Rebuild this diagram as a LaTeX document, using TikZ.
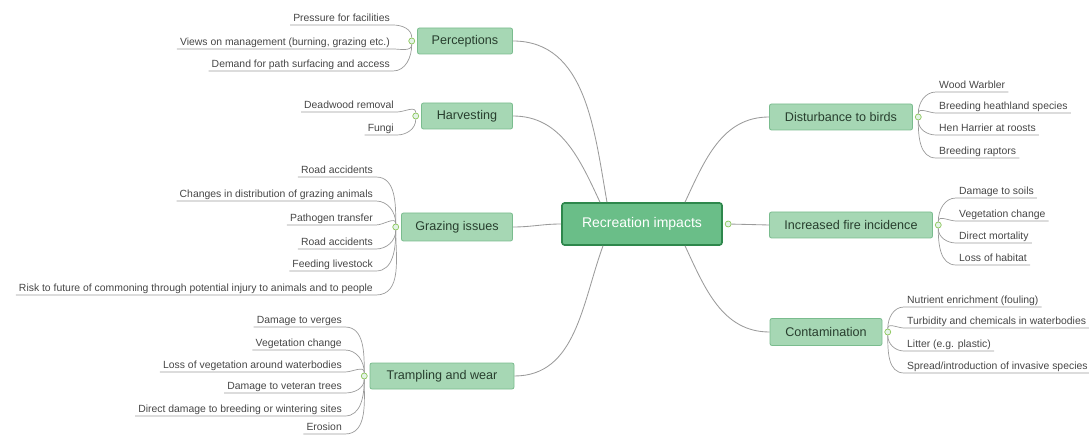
\documentclass[tikz,border=0pt]{standalone}
\usepackage{fontspec}
\setmainfont{Liberation Sans}
\usetikzlibrary{positioning}

\definecolor{mintfill}{RGB}{166,215,180}
\definecolor{mintline}{RGB}{122,188,142}
\definecolor{hubfill}{RGB}{106,190,136}
\definecolor{hubline}{RGB}{46,135,76}
\definecolor{twiggray}{RGB}{155,155,155}
\definecolor{leaftext}{RGB}{70,70,70}
\definecolor{branchtext}{RGB}{40,62,46}
\definecolor{knobline}{RGB}{140,198,90}

\tikzset{
  hub/.style={draw=hubline, fill=hubfill, line width=1.6pt, rounded corners=2.5pt,
    minimum width=160pt, minimum height=42pt, text=white,
    font=\fontsize{14}{16}\selectfont},
  branch/.style={draw=mintline, fill=mintfill, line width=0.8pt, rounded corners=2pt,
    minimum height=26pt, inner xsep=0pt, text=branchtext,
    font=\fontsize{12.6}{14}\selectfont},
  knob/.style={circle, draw=knobline, fill=white!70!mintfill, line width=0.7pt,
    minimum size=6pt, inner sep=0pt},
  leafL/.style={anchor=south east, inner xsep=3pt, inner ysep=1.5pt, text height=7.5pt,
    text depth=2pt, text=leaftext, font=\fontsize{10.4}{12}\selectfont},
  leafR/.style={leafL, anchor=south west},
  link/.style={draw=twiggray, line width=0.85pt},
  twig/.style={draw=twiggray, line width=0.7pt}
}

\begin{document}
\begin{tikzpicture}[x=1pt,y=1pt]

\useasboundingbox (0,0) rectangle (1089,-435);

% centre and main branches
\node[hub] (recr) at (642,-224) {Recreation impacts};
\node[knob, right=2pt of recr] (recrK) {};

\node[branch, minimum width=95pt] (perc) at (465,-41) {Perceptions};
\node[branch, minimum width=91pt] (harv) at (467,-116) {Harvesting};
\node[branch, minimum width=111pt, minimum height=28pt] (graz) at (457,-227) {Grazing issues};
\node[branch, minimum width=144pt] (tramp) at (442,-376) {Trampling and wear};
\node[branch, minimum width=143pt] (birds) at (841,-117) {Disturbance to birds};
\node[branch, minimum width=163pt] (fire) at (851,-225) {Increased fire incidence};
\node[branch, minimum width=112pt, minimum height=27pt] (cont) at (826,-332) {Contamination};

\node[knob, left=2pt of perc] (percK) {};
\node[knob, left=2pt of harv] (harvK) {};
\node[knob, left=2pt of graz] (grazK) {};
\node[knob, left=2pt of tramp] (trampK) {};
\node[knob, right=2pt of birds] (birdsK) {};
\node[knob, right=2pt of fire] (fireK) {};
\node[knob, right=2pt of cont] (contK) {};

\draw[link] (perc.east) to[out=0,in=100] ([xshift=-35pt]recr.north);
\draw[link] (harv.east) to[out=0,in=115] ([xshift=-42pt]recr.north);
\draw[link] (graz.east) to[out=0,in=180] (recr.west);
\draw[link] (tramp.east) to[out=0,in=-110] ([xshift=-39pt]recr.south);
\draw[link] (birds.west) to[out=180,in=65] ([xshift=43pt]recr.north);
\draw[link] (recrK) -- (fire.west);
\draw[link] (cont.west) to[out=180,in=-65] ([xshift=43pt]recr.south);

% Perceptions
\node[leafL] (perc1) at (393,-25) {Pressure for facilities};
\node[leafL] (perc2) at (393,-49) {Views on management (burning, grazing etc.)};
\node[leafL] (perc3) at (393,-71) {Demand for path surfacing and access};
\draw[twig] (perc1.south west) -- (perc1.south east) to[out=0,in=90] (percK);
\draw[twig] (perc2.south west) -- (perc2.south east) to[out=0,in=-90] (percK);
\draw[twig] (perc3.south west) -- (perc3.south east) to[out=0,in=-90] (percK);

% Harvesting
\node[leafL] (harv1) at (397,-112) {Deadwood removal};
\node[leafL] (harv2) at (397,-135) {Fungi};
\draw[twig] (harv1.south west) -- (harv1.south east) to[out=0,in=90] (harvK);
\draw[twig] (harv2.south west) -- (harv2.south east) to[out=0,in=-90] (harvK);

% Grazing issues
\node[leafL] (graz1) at (376,-177) {Road accidents};
\node[leafL] (graz2) at (376,-201) {Changes in distribution of grazing animals};
\node[leafL] (graz3) at (376,-225) {Pathogen transfer};
\node[leafL] (graz4) at (376,-249) {Road accidents};
\node[leafL] (graz5) at (376,-271) {Feeding livestock};
\node[leafL] (graz6) at (376,-295) {Risk to future of commoning through potential injury to animals and to people};
\draw[twig] (graz1.south west) -- (graz1.south east) to[out=0,in=90] (grazK);
\draw[twig] (graz2.south west) -- (graz2.south east) to[out=0,in=90] (grazK);
\draw[twig] (graz3.south west) -- (graz3.south east) to[out=0,in=90] (grazK);
\draw[twig] (graz4.south west) -- (graz4.south east) to[out=0,in=-90] (grazK);
\draw[twig] (graz5.south west) -- (graz5.south east) to[out=0,in=-90] (grazK);
\draw[twig] (graz6.south west) -- (graz6.south east) to[out=0,in=-90] (grazK);

% Trampling and wear
\node[leafL] (tramp1) at (345,-327) {Damage to verges};
\node[leafL] (tramp2) at (345,-350) {Vegetation change};
\node[leafL] (tramp3) at (345,-372) {Loss of vegetation around waterbodies};
\node[leafL] (tramp4) at (345,-393) {Damage to veteran trees};
\node[leafL] (tramp5) at (345,-416) {Direct damage to breeding or wintering sites};
\node[leafL] (tramp6) at (345,-434) {Erosion};
\draw[twig] (tramp1.south west) -- (tramp1.south east) to[out=0,in=90] (trampK);
\draw[twig] (tramp2.south west) -- (tramp2.south east) to[out=0,in=90] (trampK);
\draw[twig] (tramp3.south west) -- (tramp3.south east) to[out=0,in=90] (trampK);
\draw[twig] (tramp4.south west) -- (tramp4.south east) to[out=0,in=-90] (trampK);
\draw[twig] (tramp5.south west) -- (tramp5.south east) to[out=0,in=-90] (trampK);
\draw[twig] (tramp6.south west) -- (tramp6.south east) to[out=0,in=-90] (trampK);

% Disturbance to birds
\node[leafR] (birds1) at (936,-92) {Wood Warbler};
\node[leafR] (birds2) at (936,-113) {Breeding heathland species};
\node[leafR] (birds3) at (936,-135) {Hen Harrier at roosts};
\node[leafR] (birds4) at (936,-158) {Breeding raptors};
\draw[twig] (birds1.south east) -- (birds1.south west) to[out=180,in=90] (birdsK);
\draw[twig] (birds2.south east) -- (birds2.south west) to[out=180,in=90] (birdsK);
\draw[twig] (birds3.south east) -- (birds3.south west) to[out=180,in=-90] (birdsK);
\draw[twig] (birds4.south east) -- (birds4.south west) to[out=180,in=-90] (birdsK);

% Increased fire incidence
\node[leafR] (fire1) at (956,-198) {Damage to soils};
\node[leafR] (fire2) at (956,-221) {Vegetation change};
\node[leafR] (fire3) at (956,-243) {Direct mortality};
\node[leafR] (fire4) at (956,-265) {Loss of habitat};
\draw[twig] (fire1.south east) -- (fire1.south west) to[out=180,in=90] (fireK);
\draw[twig] (fire2.south east) -- (fire2.south west) to[out=180,in=90] (fireK);
\draw[twig] (fire3.south east) -- (fire3.south west) to[out=180,in=-90] (fireK);
\draw[twig] (fire4.south east) -- (fire4.south west) to[out=180,in=-90] (fireK);

% Contamination
\node[leafR] (cont1) at (904,-307) {Nutrient enrichment (fouling)};
\node[leafR] (cont2) at (904,-328) {Turbidity and chemicals in waterbodies};
\node[leafR] (cont3) at (904,-351) {Litter (e.g. plastic)};
\node[leafR] (cont4) at (904,-373) {Spread/introduction of invasive species};
\draw[twig] (cont1.south east) -- (cont1.south west) to[out=180,in=90] (contK);
\draw[twig] (cont2.south east) -- (cont2.south west) to[out=180,in=90] (contK);
\draw[twig] (cont3.south east) -- (cont3.south west) to[out=180,in=-90] (contK);
\draw[twig] (cont4.south east) -- (cont4.south west) to[out=180,in=-90] (contK);

\end{tikzpicture}
\end{document}
